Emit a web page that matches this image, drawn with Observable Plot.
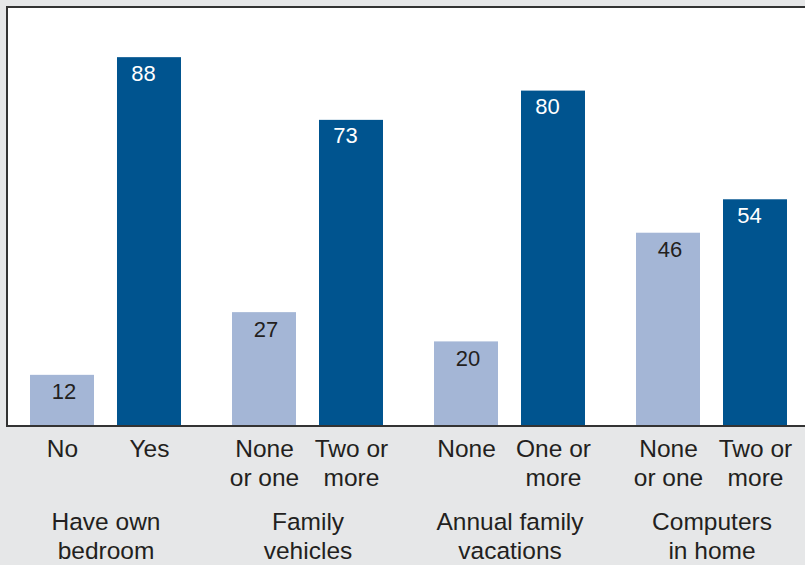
<!DOCTYPE html>
<html>
<head>
<meta charset="utf-8">
<script src="https://cdn.jsdelivr.net/npm/d3@7"></script>
<script src="https://cdn.jsdelivr.net/npm/@observablehq/plot@0.6"></script>
<style>
  html, body { margin: 0; padding: 0; background: #e6e7e8; }
  #chart svg { display: block; }
</style>
</head>
<body>
<div id="chart"></div>
<script>
// ---- data ----
const groups = ["Have own\nbedroom", "Family\nvehicles", "Annual family\nvacations", "Computers\nin home"];
const firstLabels = ["No", "None\nor one", "None", "None\nor one"];
const secondLabels = ["Yes", "Two or\nmore", "One or\nmore", "Two or\nmore"];
const firstValues = [12, 27, 20, 46];
const secondValues = [88, 73, 80, 54];
const seriesKeys = ["first", "second"];

// ---- table ----
const rows = [];
groups.forEach((g, i) => {
  rows.push({group: g, series: "first", label: firstLabels[i], value: firstValues[i]});
  rows.push({group: g, series: "second", label: secondLabels[i], value: secondValues[i]});
});
const groupRows = groups.map(g => ({group: g}));

const W = 805, H = 565, MT = 7, MB = 140;
const font = "'Liberation Sans', Arial, Helvetica, sans-serif";
const ink = "#231f20";

const chart = Plot.plot({
  width: W,
  height: H,
  marginTop: MT,
  marginBottom: MB,
  marginLeft: 0,
  marginRight: 0,
  style: {background: "#e6e7e8", fontFamily: font, color: ink},
  fx: {domain: groups, range: [18, 799], paddingInner: 0.1337, paddingOuter: 0, round: false, axis: null, label: null},
  x: {domain: seriesKeys, paddingInner: 0.2644, paddingOuter: 0.138, round: false, axis: null, label: null},
  y: {domain: [0, 100], axis: null},
  color: {domain: seriesKeys, range: ["#a4b6d6", "#00548f"]},
  marks: [
    Plot.barY(rows, {fx: "group", x: "series", y: "value", fill: "series"}),
    Plot.text(rows.filter(d => d.series === "first"), {
      fx: "group", x: "series", y: "value", text: d => String(d.value),
      dy: 17, dx: 1.5, fill: ink, fontSize: 22, lineAnchor: "middle"
    }),
    Plot.text(rows.filter(d => d.series === "second"), {
      fx: "group", x: "series", y: "value", text: d => String(d.value),
      dy: 16, dx: -6, fill: "white", fontSize: 22, lineAnchor: "middle"
    }),
    Plot.text(rows, {
      fx: "group", x: "series", text: "label", frameAnchor: "bottom",
      lineAnchor: "top", dy: 11, fontSize: 24.5, lineHeight: 1.185, fill: ink
    }),
    Plot.text(groupRows, {
      fx: "group", text: "group", frameAnchor: "bottom",
      lineAnchor: "top", dy: 84, fontSize: 24.5, lineHeight: 1.185, fill: ink
    })
  ]
});

// white panel with dark border (left, top, bottom), drawn behind the marks
const svg = d3.select(chart);
const yRange = [H - MB, MT];
const panel = svg.insert("g", ":first-child");
panel.append("rect")
  .attr("x", 8).attr("y", yRange[1] + 1)
  .attr("width", W - 8).attr("height", yRange[0] - yRange[1] - 1)
  .attr("fill", "white");
const border = svg.append("g").attr("stroke", "#333").attr("stroke-width", 2).attr("fill", "none");
border.append("path").attr("d", `M${W},${yRange[1]}H7V${yRange[0] + 1}H${W}`);

document.getElementById("chart").appendChild(chart);
</script>
</body>
</html>
